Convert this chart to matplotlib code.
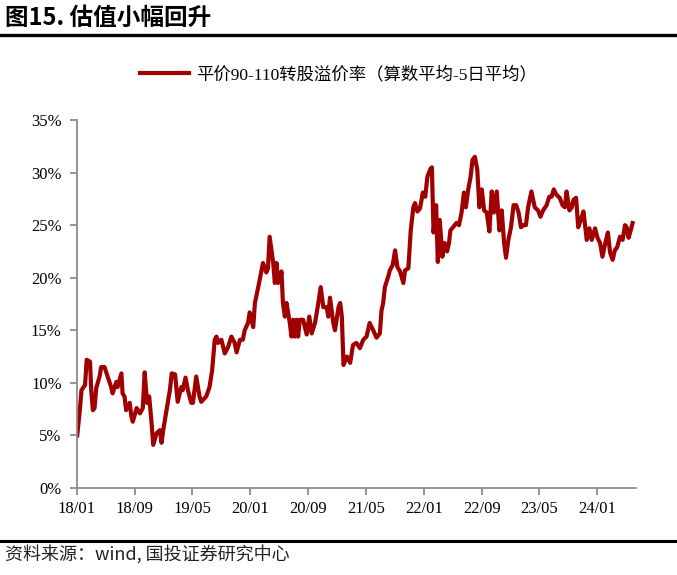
import pandas as pd
import matplotlib
matplotlib.use("Agg")
import matplotlib.pyplot as plt
import matplotlib.dates as mdates
from matplotlib.ticker import PercentFormatter

# 平价90-110转股溢价率
dates = [
    "2018-01-02", "2018-01-13", "2018-01-20", "2018-02-04", "2018-02-11", "2018-02-25",
    "2018-03-02", "2018-03-09", "2018-03-16", "2018-03-23", "2018-04-06", "2018-04-13",
    "2018-04-27", "2018-05-10", "2018-05-25", "2018-05-31", "2018-06-16", "2018-06-21",
    "2018-07-07", "2018-07-12", "2018-07-20", "2018-07-27", "2018-08-11", "2018-08-18",
    "2018-08-24", "2018-09-09", "2018-09-23", "2018-10-05", "2018-10-13", "2018-10-23",
    "2018-11-01", "2018-11-11", "2018-11-18", "2018-12-02", "2018-12-16", "2018-12-23",
    "2018-12-30", "2019-01-13", "2019-01-27", "2019-02-04", "2019-02-18", "2019-03-01",
    "2019-03-16", "2019-03-22", "2019-04-03", "2019-04-13", "2019-04-27", "2019-05-04",
    "2019-05-18", "2019-06-01", "2019-06-08", "2019-06-29", "2019-07-13", "2019-07-24",
    "2019-08-04", "2019-08-11", "2019-08-18", "2019-09-01", "2019-09-15", "2019-09-29",
    "2019-10-13", "2019-10-27", "2019-11-04", "2019-11-18", "2019-11-30", "2019-12-08",
    "2019-12-22", "2019-12-29", "2020-01-13", "2020-01-20", "2020-02-03", "2020-02-17",
    "2020-02-23", "2020-03-08", "2020-03-15", "2020-03-22", "2020-04-06", "2020-04-13",
    "2020-04-20", "2020-04-27", "2020-05-11", "2020-05-17", "2020-05-25", "2020-06-01",
    "2020-06-15", "2020-06-22", "2020-06-29", "2020-07-06", "2020-07-13", "2020-07-20",
    "2020-07-27", "2020-08-10", "2020-08-25", "2020-09-05", "2020-09-15", "2020-09-29",
    "2020-10-13", "2020-10-23", "2020-11-03", "2020-11-17", "2020-11-24", "2020-12-01",
    "2020-12-15", "2020-12-22", "2021-01-06", "2021-01-13", "2021-01-20", "2021-01-27",
    "2021-02-10", "2021-02-24", "2021-03-08", "2021-03-22", "2021-04-06", "2021-04-20",
    "2021-05-04", "2021-05-17", "2021-06-01", "2021-06-15", "2021-06-29", "2021-07-06",
    "2021-07-13", "2021-07-20", "2021-08-03", "2021-08-10", "2021-08-22", "2021-09-01",
    "2021-09-11", "2021-09-22", "2021-10-06", "2021-10-13", "2021-10-27", "2021-11-06",
    "2021-11-17", "2021-11-24", "2021-12-04", "2021-12-15", "2021-12-27", "2022-01-06",
    "2022-01-15", "2022-01-27", "2022-02-03", "2022-02-10", "2022-02-21", "2022-02-28",
    "2022-03-08", "2022-03-19", "2022-03-29", "2022-04-08", "2022-04-16", "2022-04-22",
    "2022-05-03", "2022-05-17", "2022-05-28", "2022-06-08", "2022-06-18", "2022-06-26",
    "2022-07-06", "2022-07-16", "2022-07-24", "2022-08-03", "2022-08-13", "2022-08-22",
    "2022-09-01", "2022-09-11", "2022-09-22", "2022-10-03", "2022-10-13", "2022-10-22",
    "2022-11-03", "2022-11-14", "2022-11-24", "2022-12-04", "2022-12-12", "2022-12-22",
    "2023-01-02", "2023-01-13", "2023-01-24", "2023-02-03", "2023-02-13", "2023-02-24",
    "2023-03-06", "2023-03-15", "2023-03-29", "2023-04-12", "2023-04-26", "2023-05-06",
    "2023-05-17", "2023-06-01", "2023-06-12", "2023-06-22", "2023-07-01", "2023-07-12",
    "2023-07-26", "2023-08-07", "2023-08-17", "2023-08-24", "2023-09-05", "2023-09-15",
    "2023-09-22", "2023-10-03", "2023-10-12", "2023-10-23", "2023-11-03", "2023-11-17",
    "2023-11-28", "2023-12-08", "2023-12-22", "2024-01-01", "2024-01-12", "2024-01-22",
    "2024-02-03", "2024-02-14", "2024-02-23", "2024-03-05", "2024-03-14", "2024-03-24",
    "2024-04-05", "2024-04-16", "2024-04-26", "2024-05-03", "2024-05-11", "2024-05-20",
    "2024-05-28",
]
premium = [
    5.0, 7.4, 9.3, 9.8, 12.2, 12.0,
    9.3, 7.4, 7.6, 9.5, 10.6, 11.5,
    11.5, 10.6, 9.6, 9.0, 10.1, 9.6,
    10.9, 9.0, 8.7, 7.4, 8.1, 6.8,
    6.3, 7.6, 7.1, 7.6, 11.0, 8.1,
    8.7, 6.2, 4.1, 5.2, 5.5, 4.3,
    5.5, 7.4, 9.3, 10.9, 10.8, 8.2,
    9.6, 9.3, 10.5, 9.3, 8.1, 8.1,
    10.6, 8.7, 8.2, 8.7, 9.6, 11.2,
    14.1, 14.4, 13.8, 14.1, 12.8, 13.4,
    14.4, 13.8, 12.9, 14.1, 14.1, 15.0,
    15.7, 16.7, 15.3, 17.6, 19.1, 20.7,
    21.4, 20.5, 20.9, 23.9, 21.4, 19.5,
    21.4, 19.5, 20.6, 17.6, 16.3, 17.6,
    15.7, 14.4, 16.0, 14.4, 16.0, 14.4,
    16.0, 16.0, 14.6, 16.3, 14.7, 15.7,
    17.6, 19.1, 17.2, 17.2, 16.3, 18.1,
    15.7, 15.0, 17.2, 17.6, 16.3, 11.7,
    12.5, 11.9, 13.6, 13.8, 13.3, 14.1,
    14.4, 15.7, 15.0, 14.3, 14.7, 16.9,
    17.6, 19.1, 20.1, 20.7, 21.2, 22.6,
    21.0, 20.6, 19.5, 20.7, 20.9, 24.5,
    26.7, 27.1, 26.3, 26.6, 28.1, 27.7,
    29.6, 30.3, 30.5, 24.3, 26.9, 21.5,
    25.5, 22.0, 23.3, 22.5, 23.3, 24.5,
    24.8, 25.2, 25.0, 26.2, 28.1, 26.7,
    28.4, 29.6, 31.2, 31.5, 30.3, 26.7,
    28.4, 26.4, 26.2, 24.4, 28.2, 26.2,
    28.2, 24.5, 26.4, 23.3, 21.9, 23.6,
    24.8, 26.9, 26.9, 26.2, 24.8, 25.0,
    25.0, 26.7, 28.2, 26.7, 26.4, 25.8,
    26.4, 26.9, 27.7, 27.7, 28.4, 27.9,
    27.6, 26.9, 26.7, 28.2, 26.4, 26.7,
    27.4, 27.6, 24.8, 25.5, 26.3, 23.6,
    24.7, 23.6, 24.7, 23.8, 23.3, 22.0,
    23.3, 24.3, 22.4, 21.7, 22.6, 22.9,
    23.9, 23.6, 25.0, 24.8, 23.8, 24.5,
    25.2,
]
series_name = "平价90-110转股溢价率（算数平均-5日平均）"
title = "图15. 估值小幅回升"
source = "资料来源：wind, 国投证券研究中心"

serif = ["Liberation Serif", "Noto Sans CJK SC"]
plt.rcParams["font.family"] = serif

x = pd.to_datetime(dates)

fig = plt.figure(figsize=(6.77, 5.75), dpi=100)
ax = fig.add_axes([0.1137, 0.1513, 0.8253, 0.64])

ax.plot(x, premium, color="#A00000", lw=3.0, label=series_name)

ax.set_ylim(0, 35)
ax.set_yticks(range(0, 36, 5))
ax.yaxis.set_major_formatter(PercentFormatter(decimals=0))
ax.set_xlim(pd.Timestamp("2018-01-01"), pd.Timestamp("2024-06-10"))
ax.set_xticks(pd.date_range("2018-01-01", periods=10, freq="8MS"))
ax.xaxis.set_major_formatter(mdates.DateFormatter("%y/%m"))

for s in ["top", "right"]:
    ax.spines[s].set_visible(False)
for s in ["left", "bottom"]:
    ax.spines[s].set_color("#8c8c8c")
    ax.spines[s].set_linewidth(1.3)
ax.tick_params(colors="#8c8c8c", width=1.3, length=5, labelsize=12,
               labelcolor="black")
ax.tick_params(axis="x", pad=4)
ax.tick_params(axis="y", pad=6)

fig.legend(loc="center", bbox_to_anchor=(0.5, 0.870), frameon=False,
           handlelength=2.8, handletextpad=0.4, fontsize=12.5)

fig.text(0.007, 0.968, title, fontsize=17, fontweight="bold", va="center",
         family=["Noto Sans CJK SC", "DejaVu Sans"])
fig.add_artist(plt.Line2D([0, 1], [0.940, 0.940], color="black", lw=2.4,
                          transform=fig.transFigure))
fig.add_artist(plt.Line2D([0, 1], [0.059, 0.059], color="black", lw=2.2,
                          transform=fig.transFigure))
fig.text(0.007, 0.037, source, fontsize=13, va="center", color="#222222",
         family=["Noto Sans CJK SC", "DejaVu Sans"])

fig.savefig("out.png", dpi=100)
